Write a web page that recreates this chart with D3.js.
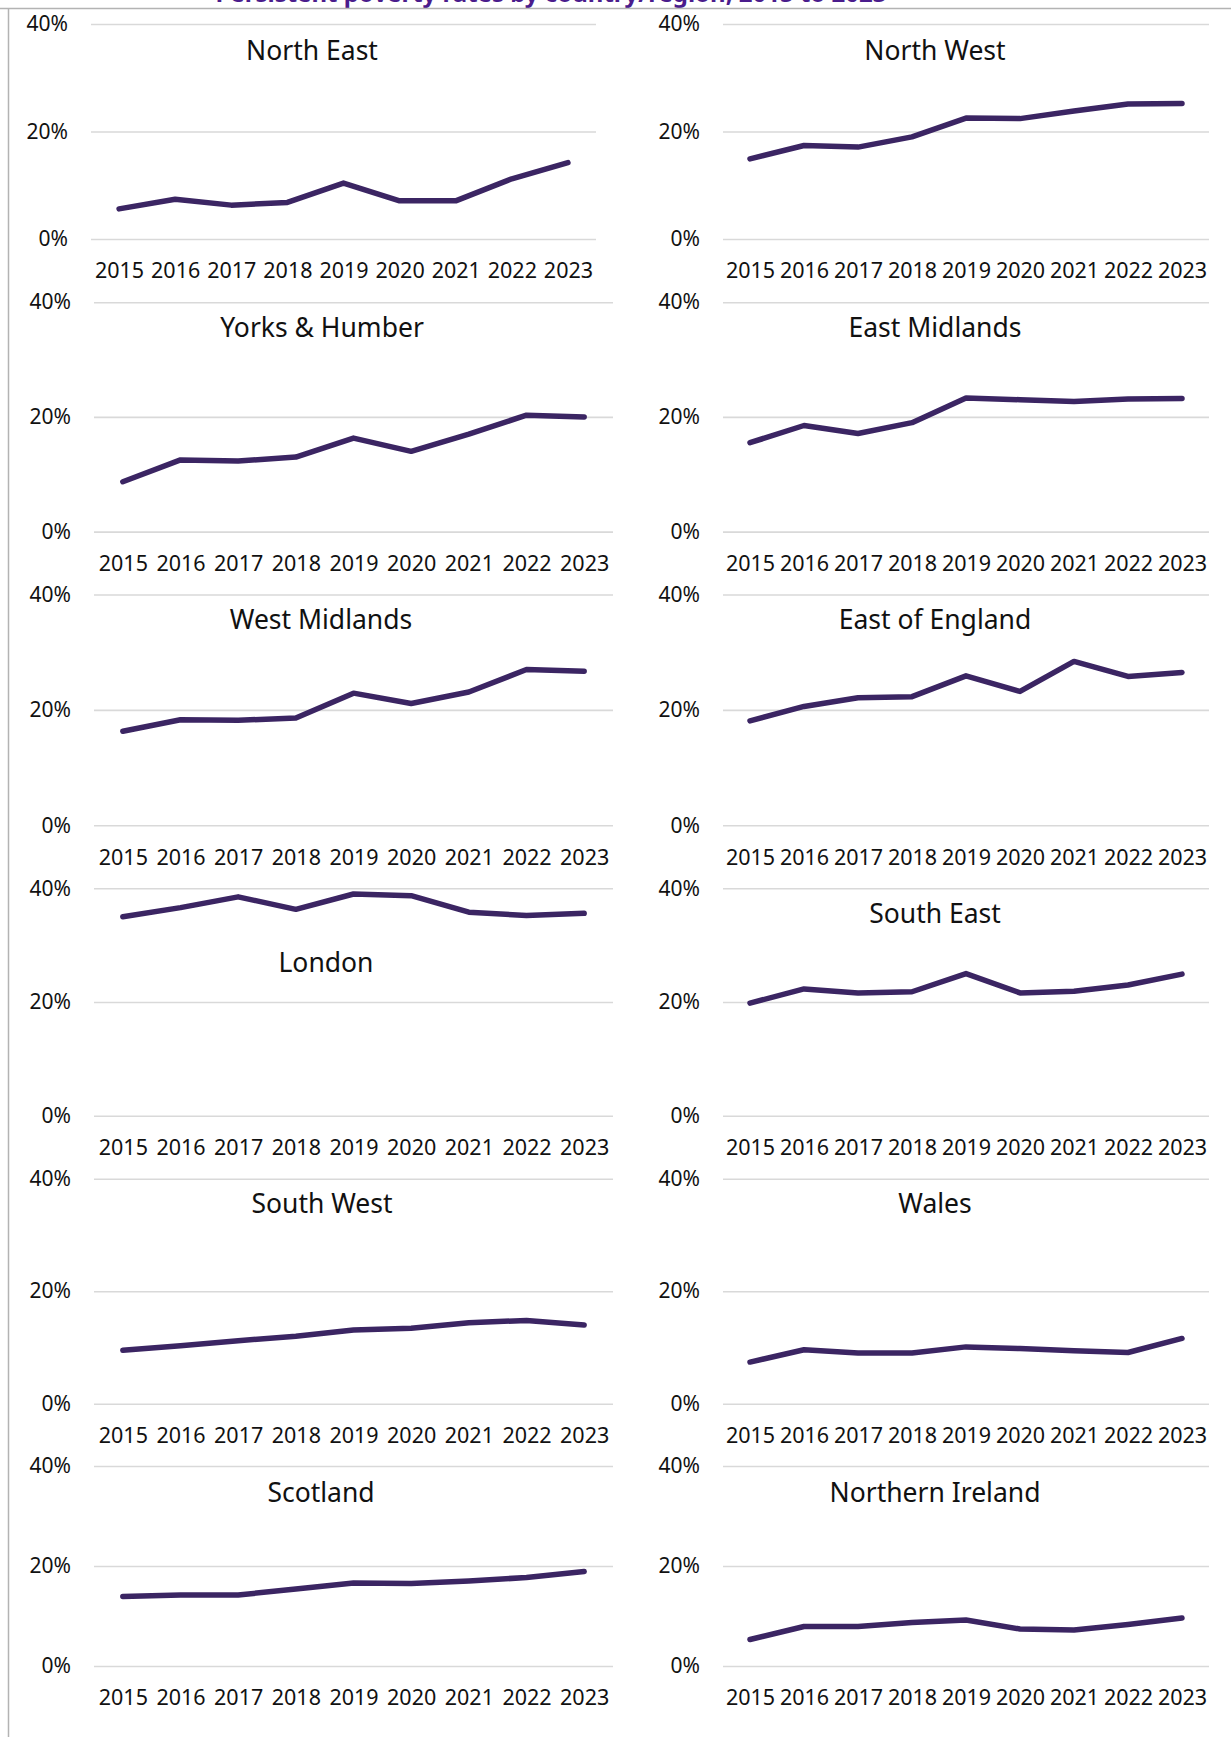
<!DOCTYPE html>
<html>
<head>
<meta charset="utf-8">
<script src="https://cdnjs.cloudflare.com/ajax/libs/d3/7.8.5/d3.min.js"></script>
<style>
  html, body { margin: 0; padding: 0; background: #ffffff; }
  svg { display: block; }
  text { font-family: "Noto Sans", "Open Sans", sans-serif; fill: #111111; }
</style>
</head>
<body>
<svg id="chart" width="1231" height="1737"></svg>
<script>
// Persistent poverty rate by country / region, 2015–2023 (%)
const years = ["2015", "2016", "2017", "2018", "2019", "2020", "2021", "2022", "2023"];
const regions = ["North East", "North West", "Yorks & Humber", "East Midlands",
  "West Midlands", "East of England", "London", "South East",
  "South West", "Wales", "Scotland", "Northern Ireland"];
const yTicks = [0, 20, 40];

const northEast       = [5.6, 7.4, 6.3, 6.8, 10.4, 7.1, 7.1, 11.2, 14.2];
const northWest       = [14.9, 17.4, 17.1, 19.0, 22.5, 22.4, 23.8, 25.1, 25.2];
const yorksHumber     = [8.7, 12.5, 12.3, 13.0, 16.3, 14.0, 17.0, 20.3, 20.0];
const eastMidlands    = [15.5, 18.5, 17.1, 19.0, 23.3, 23.0, 22.7, 23.1, 23.2];
const westMidlands    = [16.3, 18.3, 18.2, 18.6, 22.9, 21.1, 23.1, 27.0, 26.7];
const eastOfEngland   = [18.1, 20.6, 22.1, 22.3, 25.9, 23.2, 28.4, 25.8, 26.5];
const london          = [35.0, 36.6, 38.5, 36.3, 39.0, 38.7, 35.8, 35.2, 35.6];
const southEast       = [19.8, 22.3, 21.6, 21.8, 25.0, 21.6, 21.9, 23.0, 24.9];
const southWest       = [9.5, 10.3, 11.2, 12.0, 13.1, 13.4, 14.4, 14.8, 14.0];
const wales           = [7.4, 9.6, 9.0, 9.0, 10.1, 9.8, 9.4, 9.1, 11.6];
const scotland        = [13.9, 14.2, 14.2, 15.4, 16.6, 16.5, 17.0, 17.7, 18.9];
const northernIreland = [5.3, 7.9, 7.9, 8.7, 9.2, 7.4, 7.2, 8.3, 9.6];

const series = [northEast, northWest, yorksHumber, eastMidlands, westMidlands,
  eastOfEngland, london, southEast, southWest, wales, scotland, northernIreland];

// Panel geometry: plot left/right, 0% and 40% baselines, title position
const panels = [
  { x0: 91,  x1: 596,  yZero: 239,    yTop: 24,     tx: 312, ty: 60 },
  { x0: 723, x1: 1209, yZero: 239,    yTop: 24,     tx: 935, ty: 60 },
  { x0: 94,  x1: 613,  yZero: 531.6,  yTop: 302.2,  tx: 322, ty: 337.4 },
  { x0: 723, x1: 1209, yZero: 531.6,  yTop: 302.2,  tx: 935, ty: 337.4 },
  { x0: 94,  x1: 613,  yZero: 825.3,  yTop: 594.5,  tx: 321, ty: 628.5 },
  { x0: 723, x1: 1209, yZero: 825.3,  yTop: 594.5,  tx: 935, ty: 628.5 },
  { x0: 94,  x1: 613,  yZero: 1115.7, yTop: 888.3,  tx: 326, ty: 971.7 },
  { x0: 723, x1: 1209, yZero: 1115.7, yTop: 888.3,  tx: 935, ty: 923.3 },
  { x0: 94,  x1: 613,  yZero: 1403.7, yTop: 1178.7, tx: 322, ty: 1213.3 },
  { x0: 723, x1: 1209, yZero: 1403.7, yTop: 1178.7, tx: 935, ty: 1213.3 },
  { x0: 94,  x1: 613,  yZero: 1666,   yTop: 1466,   tx: 321, ty: 1501.7 },
  { x0: 723, x1: 1209, yZero: 1666,   yTop: 1466,   tx: 935, ty: 1501.7 }
];

const svg = d3.select("#chart");
const lineColor = "#3b2563";

// Heading strip running off the top edge
svg.append("text")
  .attr("x", 551).attr("y", 2)
  .attr("text-anchor", "middle")
  .style("font-size", "24px")
  .style("font-weight", "bold")
  .style("fill", "#4a1c8c")
  .text("Persistent poverty rates by country/region, 2015 to 2023");

// Outer frame
svg.append("line").attr("x1", 0).attr("x2", 1231).attr("y1", 8.5).attr("y2", 8.5)
  .attr("stroke", "#b3b3b3").attr("stroke-width", 1.5);
svg.append("line").attr("x1", 8.5).attr("x2", 8.5).attr("y1", 8.5).attr("y2", 1737)
  .attr("stroke", "#b3b3b3").attr("stroke-width", 1.5);

panels.forEach((p, i) => {
  const g = svg.append("g");
  const x = d3.scalePoint().domain(years).range([p.x0, p.x1]).padding(0.5);
  const y = d3.scaleLinear().domain([0, 40]).range([p.yZero, p.yTop]);

  // Horizontal gridlines with percentage labels
  const yAxis = d3.axisLeft(y).tickValues(yTicks)
    .tickSize(-(p.x1 - p.x0)).tickPadding(23)
    .tickFormat(d => d + "%");
  const ya = g.append("g").attr("transform", `translate(${p.x0},0)`).call(yAxis);
  ya.select(".domain").remove();
  ya.selectAll(".tick line").attr("stroke", "#d9d9d9").attr("stroke-width", 1.6);
  ya.selectAll(".tick text")
    .attr("fill", "#111111")
    .style("font-size", "21px")
    .style("font-family", "'Noto Sans', 'Open Sans', sans-serif");

  // Year labels
  const xAxis = d3.axisBottom(x).tickSize(0).tickPadding(24);
  const xa = g.append("g").attr("transform", `translate(0,${p.yZero})`).call(xAxis);
  xa.select(".domain").remove();
  xa.selectAll(".tick text")
    .attr("fill", "#111111")
    .style("font-size", "21.5px")
    .style("font-family", "'Noto Sans', 'Open Sans', sans-serif");

  // Panel title
  g.append("text")
    .attr("x", p.tx).attr("y", p.ty)
    .attr("text-anchor", "middle")
    .style("font-size", "26.5px")
    .text(regions[i]);

  // Series line
  const line = d3.line()
    .x((d, j) => x(years[j]))
    .y(d => y(d));
  g.append("path")
    .datum(series[i])
    .attr("d", line)
    .attr("fill", "none")
    .attr("stroke", lineColor)
    .attr("stroke-width", 5.5)
    .attr("stroke-linecap", "round")
    .attr("stroke-linejoin", "round");
});
</script>
</body>
</html>
